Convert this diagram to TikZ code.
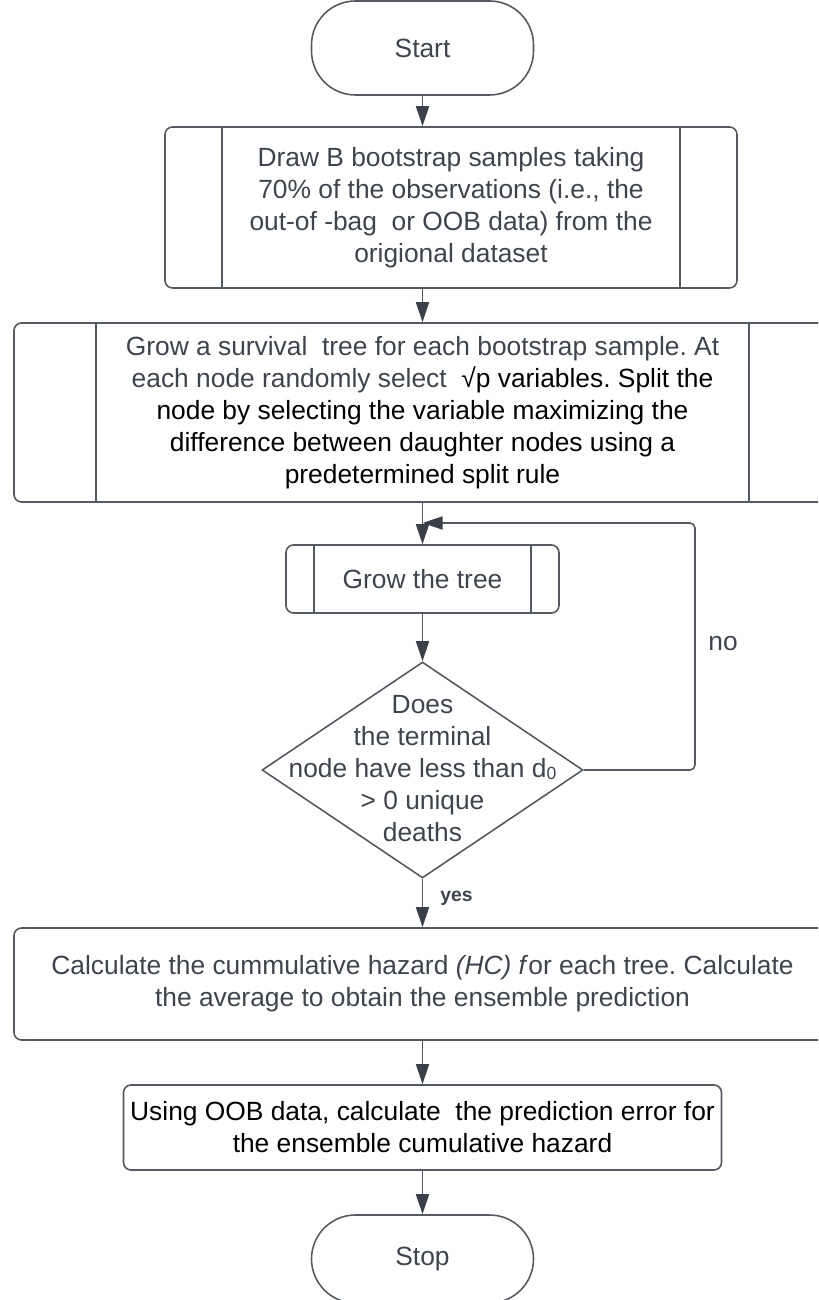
\documentclass[tikz,border=0pt]{standalone}
\usepackage{fontspec}
\setmainfont{Liberation Sans}
\usepackage{xcolor}
\usepackage{tikz}
\usetikzlibrary{shapes.geometric,arrows.meta,positioning}

\definecolor{linecol}{RGB}{84,89,98}
\definecolor{headcol}{RGB}{58,64,73}
\definecolor{txtgray}{RGB}{62,68,77}
\frenchspacing

\begin{document}
\begin{tikzpicture}[
    every node/.style={font=\fontsize{15}{18.2}\selectfont, text=txtgray},
    shapebox/.style={draw=linecol, line width=0.9pt, rounded corners=0.15cm, inner sep=0pt, align=center},
    terminal/.style={shapebox, rounded corners=0.88cm, minimum width=4.44cm},
    subproc/.style={shapebox, path picture={
        \draw[linecol, line width=0.9pt] ([xshift=#1]path picture bounding box.north west) -- ([xshift=#1]path picture bounding box.south west);
        \draw[linecol, line width=0.9pt] ([xshift=-#1]path picture bounding box.north east) -- ([xshift=-#1]path picture bounding box.south east);}},
    decision/.style={diamond, draw=linecol, line width=0.9pt, inner sep=0pt, minimum width=6.42cm, minimum height=4.32cm},
    flow/.style={draw=linecol, line width=0.9pt, -{Triangle[length=0.4cm, width=0.26cm, color=headcol]}},
]
    \clip (0,0) rectangle (16.36,26);

    % start
    \node[terminal, minimum height=1.88cm] (start) at (8.45,25.04) {Start};

    % bootstrap samples
    \node[subproc=1.14cm, minimum width=11.44cm, minimum height=3.22cm] (boot) at (9.02,21.85)
        {Draw B bootstrap samples taking\\70\% of the observations (i.e., the\\out-of -bag\ \ or OOB data) from the\\origional dataset};

    % survival trees
    \node[subproc=1.64cm, minimum width=16.34cm, minimum height=3.58cm] (grow) at (8.45,17.75)
        {Grow a survival\ \ tree for each bootstrap sample. At\\
         each node randomly select\ \ \textcolor{black}{√p variables. Split the}\\
         \textcolor{black}{node by selecting the variable maximizing the}\\
         \textcolor{black}{difference between daughter nodes using a}\\
         \textcolor{black}{predetermined split rule}};

    % grow the tree
    \node[subproc=0.56cm, minimum width=5.46cm, minimum height=1.36cm] (tree) at (8.45,14.42) {Grow the tree};

    % stopping rule
    \node[decision] (dec) at (8.45,10.6)
        {\makebox[0pt]{\smash{\raisebox{-0.14cm}{\begin{tabular}{@{}c@{}}Does\\the terminal\\node have less than d\raisebox{-0.15ex}{\fontsize{10}{10}\selectfont 0}\\> 0 unique\\deaths\end{tabular}}}}};

    % ensemble
    \node[shapebox, minimum width=16.34cm, minimum height=2.24cm] (haz) at (8.45,6.32)
        {Calculate the cummulative hazard \textit{(HC) f}or each tree. Calculate\\the average to obtain the ensemble prediction};

    % prediction error
    \node[shapebox, text=black, minimum width=11.96cm, minimum height=1.7cm] (err) at (8.45,3.45)
        {Using OOB data, calculate\ \ the prediction error for\\the ensemble cumulative hazard};

    % stop
    \node[terminal, minimum height=1.76cm] (stop) at (8.45,0.82) {Stop};

    % arrows
    \draw[flow] (start.south) -- (start.south |- boot.north);
    \draw[flow] (grow.north |- boot.south) -- (grow.north);
    \draw[flow] (grow.south) -- (tree.north);
    \draw[flow] (tree.south) -- (dec.north);
    \draw[flow] (dec.south) -- node[pos=0.4, right=0.34cm, inner sep=0pt, font=\fontsize{11}{13}\selectfont\bfseries] (yes) {yes} (haz.north);
    \draw[flow] (haz.south) -- (err.north);
    \draw[flow] (err.south) -- (stop.north);

    % loop back
    \coordinate (back) at (13.9,15.54);
    \draw[flow, rounded corners=0.1cm] (dec.east) -| (back) -- (back -| tree.north);
    \node[anchor=west, inner sep=0pt] (no) at (14.16,13.12) {no};
\end{tikzpicture}
\end{document}
